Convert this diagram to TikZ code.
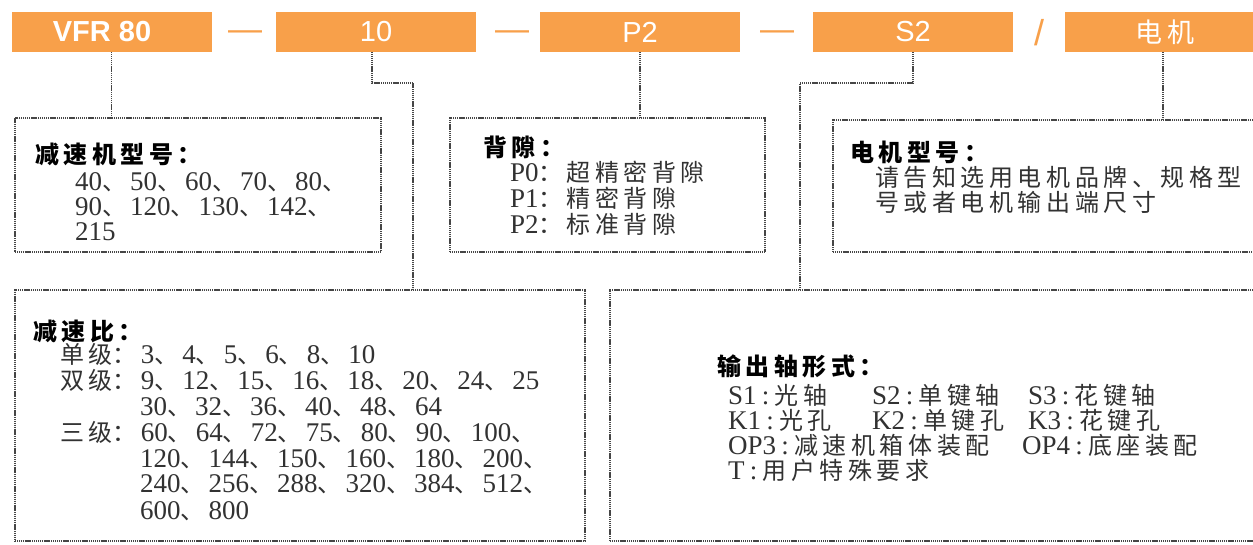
\documentclass[tikz,border=0pt]{standalone}
\usepackage{fontspec}
\setmainfont{Liberation Serif}
\newfontfamily\cjk{Noto Sans CJK SC}[LetterSpace=19]
\newfontfamily\hdfont{Liberation Sans}
\definecolor{org}{RGB}{248,160,74}
\definecolor{ink}{RGB}{50,50,50}
\definecolor{lineink}{RGB}{70,70,70}
\newcommand{\zh}[1]{{\cjk\fontsize{24}{24}\selectfont #1}}
\newcommand{\dn}{\makebox[28pt][l]{\cjk\fontsize{24}{24}\selectfont 、}}
\newcommand{\zc}{\makebox[28pt][l]{\cjk\fontsize{24}{24}\selectfont ：}}
\newcommand{\cl}{\makebox[18pt][c]{:}}
\tikzset{
  obox/.style={fill=org, draw=none, minimum height=40pt, minimum width=200pt, inner sep=0pt, text=white, font=\hdfont\fontsize{29}{29}\selectfont},
  sepmark/.style={anchor=base, inner sep=0pt, text=org, font=\hdfont\fontsize{34}{34}\selectfont},
  conn/.style={draw=lineink, line width=1.4pt, dash pattern=on 1.2pt off 0.7pt},
  ibox/.style={conn, inner sep=0pt, outer sep=0pt},
  ttl/.style={anchor=base west, inner sep=0pt, text=black, font=\cjk\bfseries\fontsize{24}{24}\selectfont},
  txt/.style={anchor=base west, inner sep=0pt, text=ink, font=\fontsize{27}{27}\selectfont},
}
\begin{document}
\begin{tikzpicture}[x=1pt,y=-1pt]
\useasboundingbox (0,0) rectangle (1253,544);
\clip (0,0) rectangle (1253,544);
\fill[white] (0,0) rectangle (1253,544);
% header boxes
\node[obox] (n1) at (112,32) {\bfseries VFR 80\hspace*{20pt}};
\node[obox] (n2) at (376,32) {10};
\node[obox] (n3) at (640,32) {P2};
\node[obox] (n4) at (913,32) {S2};
\node[obox, font=\cjk\fontsize{27}{27}\selectfont] (n5) at (1165,32) {电机};
\node[sepmark] (s1) at (245,40.5) {—};
\node[sepmark] (s2) at (512,40.5) {—};
\node[sepmark] (s3) at (777,40.5) {—};
\node[sepmark, font=\hdfont\fontsize{36}{36}\selectfont] (s4) at (1039,45) {/};
% info boxes
\node[ibox, minimum width=366pt, minimum height=134pt] (b1) at (198,185) {};
\node[ibox, minimum width=315pt, minimum height=134pt] (b2) at (607.5,185) {};
\node[ibox, minimum width=430pt, minimum height=132pt] (b5) at (1048,186) {};
\node[ibox, minimum width=570pt, minimum height=251pt] (b3) at (300,415.5) {};
\node[ibox, minimum width=653pt, minimum height=251pt] (b4) at (936.5,415.5) {};
% connectors
\coordinate (k2) at (413,83);
\coordinate (k4) at (800,83);
\draw[conn] ([xshift=-0.5pt]n1.south) -- ([xshift=-0.5pt]n1.south |- b1.north);
\draw[conn] ([xshift=-4pt]n2.south) |- (k2) -- (k2 |- b3.north);
\draw[conn] (n3.south) -- (n3.south |- b2.north);
\draw[conn] (n4.south) |- (k4) -- (k4 |- b4.north);
\draw[conn] ([xshift=-2pt]n5.south) -- ([xshift=-2pt]n5.south |- b5.north);
% box 1
\node[ttl] (t1) at (35,163) {减速机型号：};
\node[txt] (l11) at (75,190) {40\dn 50\dn 60\dn 70\dn 80\dn};
\node[txt] (l12) at (75,215) {90\dn 120\dn 130\dn 142\dn};
\node[txt] (l13) at (75,240) {215};
% box 2
\node[ttl] (t2) at (483,156) {背隙：};
\node[txt] (l21) at (510,181) {P0\zc\zh{超精密背隙}};
\node[txt] (l22) at (510,207) {P1\zc\zh{精密背隙}};
\node[txt] (l23) at (510,233) {P2\zc\zh{标准背隙}};
% box 5
\node[ttl] (t5) at (850,161) {电机型号：};
\node[txt] (l51) at (875,186) {\zh{请告知选用电机品牌、规格型}};
\node[txt] (l52) at (875,211) {\zh{号或者电机输出端尺寸}};
% box 3
\node[ttl] (t3) at (33,340) {减速比：};
\node[txt] (l31) at (60,363) {\zh{单级}\zc 3\dn 4\dn 5\dn 6\dn 8\dn 10};
\node[txt] (l32) at (60,389) {\zh{双级}\zc 9\dn 12\dn 15\dn 16\dn 18\dn 20\dn 24\dn 25};
\node[txt] (l33) at (140,415) {30\dn 32\dn 36\dn 40\dn 48\dn 64};
\node[txt] (l34) at (60,441) {\zh{三级}\zc 60\dn 64\dn 72\dn 75\dn 80\dn 90\dn 100\dn};
\node[txt] (l35) at (140,467) {120\dn 144\dn 150\dn 160\dn 180\dn 200\dn};
\node[txt] (l36) at (140,492) {240\dn 256\dn 288\dn 320\dn 384\dn 512\dn};
\node[txt] (l37) at (140,519) {600\dn 800};
% box 4
\node[ttl] (t4) at (717,375) {输出轴形式：};
\node[txt] (l41) at (728,404) {\makebox[144pt][l]{S1\cl\zh{光轴}}\makebox[156pt][l]{S2\cl\zh{单键轴}}S3\cl\zh{花键轴}};
\node[txt] (l42) at (728,429) {\makebox[144pt][l]{K1\cl\zh{光孔}}\makebox[156pt][l]{K2\cl\zh{单键孔}}K3\cl\zh{花键孔}};
\node[txt] (l43) at (728,454) {\makebox[294pt][l]{OP3\cl\zh{减速机箱体装配}}OP4\cl\zh{底座装配}};
\node[txt] (l44) at (728,479) {T\cl\zh{用户特殊要求}};
\end{tikzpicture}
\end{document}
